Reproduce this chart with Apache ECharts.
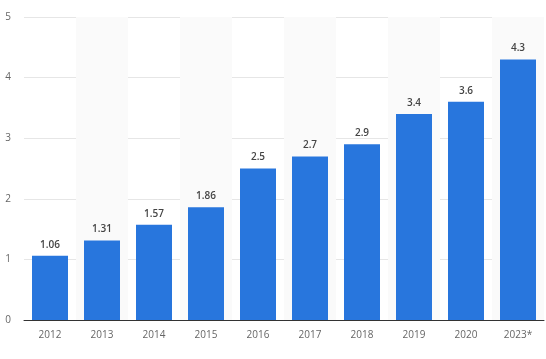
<!DOCTYPE html>
<html><head><meta charset="utf-8">
<script src="https://cdn.jsdelivr.net/npm/echarts@6/dist/echarts.min.js"></script>
<style>html,body{margin:0;padding:0;background:#fff}#c{width:546px;height:359px}</style>
</head><body><div id="c"></div>
<script>
const categories = ['2012','2013','2014','2015','2016','2017','2018','2019','2020','2023*'];
const values = [1.06,1.31,1.57,1.86,2.5,2.7,2.9,3.4,3.6,4.3];
const yTicks = [0,1,2,3,4,5];
const chart = echarts.init(document.getElementById('c'));
chart.setOption({
  animation:false,
  grid:{left:24,right:2,top:17,bottom:39},
  xAxis:{type:'category',data:categories,
    axisLine:{lineStyle:{color:'#333',width:1}},axisTick:{show:false},
    axisLabel:{color:'#666',fontSize:10,fontFamily:'Open Sans',margin:10},
    splitArea:{show:true,areaStyle:{color:['rgba(255,255,255,0)','#fafafa']}}},
  yAxis:{type:'value',min:yTicks[0],max:yTicks[yTicks.length-1],interval:1,
    axisLine:{show:false},axisTick:{show:false},
    axisLabel:{color:'#666',fontSize:10,fontFamily:'Open Sans',margin:13},
    splitLine:{lineStyle:{color:'#e6e6e6'}}},
  series:[{type:'bar',data:values,barWidth:36,itemStyle:{color:'#2876dd'},
    label:{show:true,position:'top',distance:6,color:'#444',fontSize:10,fontWeight:600,fontFamily:'Open Sans'}}]
});
</script></body></html>
